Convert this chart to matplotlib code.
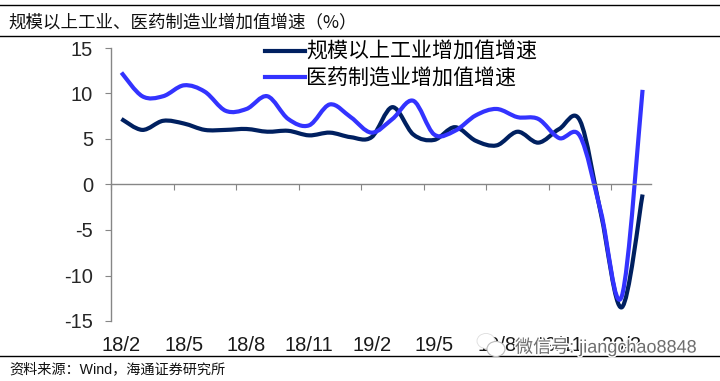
import matplotlib
matplotlib.use('Agg')
import matplotlib.patheffects as pe
import matplotlib.pyplot as plt
import numpy as np
from matplotlib.lines import Line2D
from matplotlib.patches import Ellipse, PathPatch
from matplotlib.path import Path

plt.rcParams['font.family'] = ['Liberation Sans', 'Noto Sans CJK SC', 'DejaVu Sans']

title = '规模以上工业、医药制造业增加值增速（%）'
source = '资料来源：Wind，海通证券研究所'
watermark = '微信号: jiangchao8848'

name_industry = '规模以上工业增加值增速'
name_pharma = '医药制造业增加值增速'
tick_labels = ['18/2', '18/5', '18/8', '18/11', '19/2', '19/5', '19/8', '19/11', '20/2']
yticks = [-15, -10, -5, 0, 5, 10, 15]

industry = [7.2, 6.0, 7.0, 6.7, 6.0, 6.0, 6.1, 5.8, 5.9, 5.4, 5.7, 5.2, 5.2,
            8.5, 5.5, 4.9, 6.3, 4.8, 4.3, 5.8, 4.6, 6.1, 7.0, -3.2, -13.5, -1.1]
pharma = [12.3, 9.7, 9.7, 10.9, 10.2, 8.1, 8.3, 9.7, 7.2, 6.5, 8.8, 7.4, 5.7,
          7.2, 9.2, 5.5, 5.9, 7.6, 8.3, 7.4, 7.2, 5.1, 5.3, -3.0, -12.3, 10.4]

W, H = 720, 381
DARK = '#002060'
BLUE = '#3333ff'
GREY = '#868686'


def smooth_patch(values, color):
    # same kind of bezier the spreadsheet uses for smoothed lines
    pts = np.column_stack([np.arange(len(values)), values], ).astype(float)
    verts = [pts[0]]
    codes = [Path.MOVETO]
    for i in range(len(pts) - 1):
        before = pts[max(i - 1, 0)]
        after = pts[min(i + 2, len(pts) - 1)]
        verts.append(pts[i] + (pts[i + 1] - before) / 6)
        verts.append(pts[i + 1] - (after - pts[i]) / 6)
        verts.append(pts[i + 1])
        codes += [Path.CURVE4] * 3
    return PathPatch(Path(verts, codes), fill=False, edgecolor=color, linewidth=3.0,
                     capstyle='butt', joinstyle='round', clip_on=False)


fig = plt.figure(figsize=(W / 100, H / 100), dpi=100)
ax = fig.add_axes([111 / W, 1 - 321 / H, 542 / W, 273 / H])
ax.add_patch(smooth_patch(industry, DARK))
ax.add_patch(smooth_patch(pharma, BLUE))
ax.set_xlim(-0.5, 25.5)
ax.set_ylim(-15, 15)

for side in ['top', 'right']:
    ax.spines[side].set_visible(False)
ax.spines['bottom'].set_position(('data', 0))
for side in ['left', 'bottom']:
    ax.spines[side].set_color(GREY)
    ax.spines[side].set_linewidth(1.0)
ax.spines['bottom'].set_bounds(-0.5, 25.4)

ax.set_yticks(yticks)
ax.set_yticklabels([str(v) for v in yticks])
ax.tick_params(axis='y', length=4, width=0.8, color=GREY, labelsize=14.5, labelcolor='#262626', pad=9)

ax.set_xticks(np.arange(-0.5, 25, 3))
ax.set_xticklabels([])
ax.set_xticks(np.arange(0, 25, 3), minor=True)
ax.set_xticklabels(tick_labels, minor=True)
ax.tick_params(axis='x', which='major', length=4, width=0.8, color=GREY)
ax.tick_params(axis='x', which='minor', length=0, labelsize=14.5, labelcolor='#1a1a1a', pad=109)

handles = [Line2D([], [], color=DARK, lw=3.0), Line2D([], [], color=BLUE, lw=3.0)]
ax.legend(handles, [name_industry, name_pharma], loc='upper left', frameon=False,
          bbox_to_anchor=(265 / W, 1 - 41 / H), bbox_transform=fig.transFigure,
          prop={'family': ['Noto Sans CJK SC'], 'size': 15.1}, handlelength=1.9,
          handletextpad=0.05, labelspacing=0.2, borderaxespad=0, borderpad=0)

# rules and notes around the plot
for y in [4.5, 36, 356]:
    fig.add_artist(Line2D([0, 1], [1 - y / H] * 2, color='black', lw=1.0))
fig.text(8 / W, 1 - 22 / H, title, fontsize=12.6, va='center', family=['Noto Sans CJK SC'], color='#111111')
fig.text(9 / W, 1 - 369 / H, source, fontsize=10.2, va='center', family=['Liberation Sans', 'Noto Sans CJK SC'],
         color='#111111')

# wechat watermark on top of the last labels
halo = [pe.withStroke(linewidth=2, foreground='white')]
fig.text(515 / W, 1 - 347 / H, watermark, fontsize=13, va='center', color='#6e6e6e',
         family=['Liberation Sans', 'Noto Sans CJK SC'], path_effects=halo, zorder=5)
fig.add_artist(Ellipse((486 / W, 1 - 341 / H), 18 / W, 15 / H, transform=fig.transFigure, fc='white', ec='#dddddd',
                       lw=0.6, zorder=5))
fig.add_artist(Ellipse((496 / W, 1 - 349 / H), 18 / W, 15 / H, transform=fig.transFigure, fc='white', ec='#bbbbbb',
                       lw=0.8, zorder=5))

fig.savefig('out.png', dpi=100)
